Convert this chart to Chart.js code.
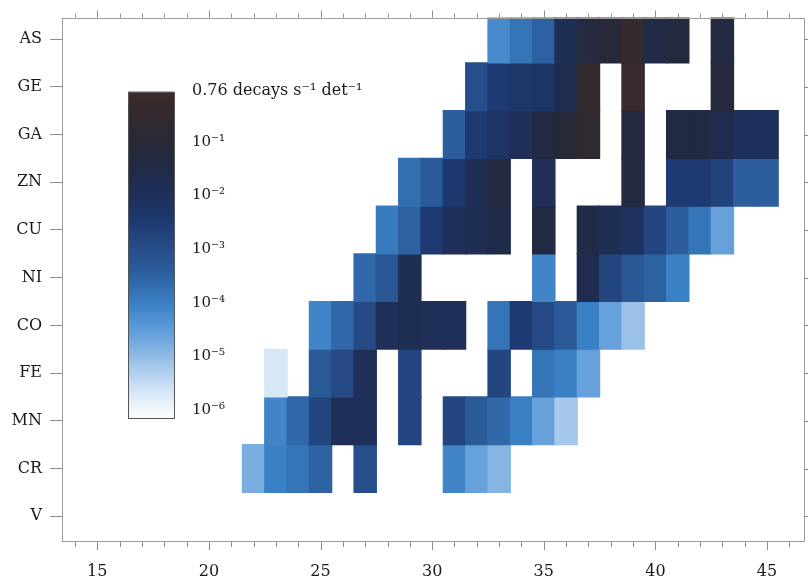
<!DOCTYPE html>
<html><head><meta charset="utf-8">
<script src="https://cdn.jsdelivr.net/npm/chart.js@4/dist/chart.umd.min.js"></script>
<style>html,body{margin:0;padding:0;background:#fff}#wrap{width:808px;height:582px;position:relative}</style>
</head><body><div id="wrap"><canvas id="c" width="808" height="582"></canvas></div>
<script>
// ---------------- DATA ----------------
const rowLabels = ['V','CR','MN','FE','CO','NI','CU','ZN','GA','GE','AS'];
const columns = [22,23,24,25,26,27,28,29,30,31,32,33,34,35,36,37,38,39,40,41,42,43,44,45];
const xTickValues = [15,20,25,30,35,40,45];
const _ = null;
// log10(decays s^-1 det^-1) per column (22..45); null = no cell
const AS = [_,_,_,_,_,_,_,_,_,_,_,-4.2,-3.8,-3.5,-1.8,-1.3,-1.0,-0.4,-1.5,-1.2,_,-1.3,_,_];
const GE = [_,_,_,_,_,_,_,_,_,_,-3.0,-2.5,-2.3,-2.2,-1.7,-0.4,_,-0.3,_,_,_,-1.2,_,_];
const GA = [_,_,_,_,_,_,_,_,_,-3.4,-2.5,-2.2,-1.9,-1.4,-1.0,-0.7,_,-1.2,_,-1.4,-1.4,-1.7,-2.0,-2.0];
const ZN = [_,_,_,_,_,_,_,-3.7,-3.3,-2.4,-1.8,-1.3,_,-1.9,_,_,_,-1.3,_,-2.5,-2.5,-2.7,-3.4,-3.4];
const CU = [_,_,_,_,_,_,-3.9,-3.5,-2.5,-1.9,-1.8,-1.6,_,-1.4,_,-1.5,-1.8,-2.1,-2.8,-3.4,-3.8,-4.6,_,_];
const NI = [_,_,_,_,_,-3.6,-3.2,-1.8,_,_,_,_,_,-4.1,_,-1.7,-2.8,-3.2,-3.5,-4.0,_,_,_,_];
const CO = [_,_,_,-4.1,-3.6,-2.9,-1.9,-1.8,-1.9,-1.9,_,-3.8,-2.5,-2.9,-3.3,-4.0,-4.6,-5.1,_,_,_,_,_,_];
const FE = [_,-5.7,_,-3.3,-2.9,-1.9,_,-2.8,_,_,_,-2.8,_,-3.8,-4.0,-4.6,_,_,_,_,_,_,_,_];
const MN = [_,-4.1,-3.6,-2.8,-1.9,-1.9,_,-2.8,_,-2.8,-3.3,-3.6,-4.0,-4.6,-5.2,_,_,_,_,_,_,_,_,_];
const CR = [-4.8,-4.0,-3.8,-3.5,_,-3.0,_,_,_,-4.1,-4.6,-4.9,_,_,_,_,_,_,_,_,_,_,_,_];
const V  = [_,_,_,_,_,_,_,_,_,_,_,_,_,_,_,_,_,_,_,_,_,_,_,_];
const rowValues = [V, CR, MN, FE, CO, NI, CU, ZN, GA, GE, AS];

// colour map (log10 value -> colour)
const cmapStops  = [-6.2, -6.0, -5.5, -5.0, -4.5, -4.0, -3.5, -3.0, -2.5, -2.0, -1.5, -1.0, -0.5, -0.1];
const cmapColors = ['#ffffff','#f2f7fc','#c6dcf2','#8fbbe6','#5d9bd8','#3a80c4','#2d62a2','#264e8a','#1f3a72','#1e305c','#212a46','#282938','#33292e','#3c2b2b'];
const cbarLabels = ['0.76 decays s\u207B\u00B9 det\u207B\u00B9','10\u207B\u00B9','10\u207B\u00B2','10\u207B\u00B3','10\u207B\u2074','10\u207B\u2075','10\u207B\u2076'];
const cbarValues = [Math.log10(0.76), -1, -2, -3, -4, -5, -6];

// ---------------- helpers ----------------
function hex2rgb(h){return [parseInt(h.slice(1,3),16),parseInt(h.slice(3,5),16),parseInt(h.slice(5,7),16)];}
function colorFor(v){
  if (v <= cmapStops[0]) return cmapColors[0];
  for (let i=1;i<cmapStops.length;i++){
    if (v <= cmapStops[i]){
      const t=(v-cmapStops[i-1])/(cmapStops[i]-cmapStops[i-1]);
      const a=hex2rgb(cmapColors[i-1]), b=hex2rgb(cmapColors[i]);
      return 'rgb('+a.map((c,k)=>Math.round(c+(b[k]-c)*t)).join(',')+')';
    }
  }
  return cmapColors[cmapColors.length-1];
}

const cells = [], cellColors = [];
rowValues.forEach((row, r) => {
  row.forEach((v, k) => {
    if (v === null) return;
    const c = columns[k];
    cells.push({x:[c-0.5, c+0.5], y:r, v:v});
    cellColors.push(colorFor(v));
  });
});

const FONT = '"DejaVu Serif", "Liberation Serif", serif';

const decor = {
  id:'decor',
  afterDraw(chart){
    const {ctx, chartArea:a, scales:{x, y}} = chart;
    ctx.save();
    // frame
    ctx.strokeStyle = '#9c9c9c'; ctx.lineWidth = 1;
    ctx.strokeRect(Math.round(a.left)+0.5, Math.round(a.top)+0.5, Math.round(a.right-a.left)-1, Math.round(a.bottom-a.top)-1);
    // x ticks bottom & top
    ctx.strokeStyle = '#8a8a8a';
    ctx.beginPath();
    for (let v=Math.ceil(x.min); v<=x.max; v++){
      const px = Math.round(x.getPixelForValue(v))+0.5;
      const major = v%5===0;
      ctx.moveTo(px, a.bottom); ctx.lineTo(px, a.bottom+(major?8:5));
      ctx.moveTo(px, a.top); ctx.lineTo(px, a.top-(major?7:4));
    }
    // right ticks at rows
    for (let r=0; r<rowLabels.length; r++){
      const py = Math.round(y.getPixelForValue(r))+0.5;
      ctx.moveTo(a.right-1, py); ctx.lineTo(a.right+3, py);
    }
    ctx.stroke();

    // colour bar
    const yOf = v => 142 + (-1 - v)*53.6;
    const top = yOf(-0.06), bot = yOf(-6.15);
    const left = 128, w = 46;
    const g = ctx.createLinearGradient(0, bot, 0, top);
    const vmin = -6.15, vmax = -0.06;
    for (let i=0;i<=60;i++){
      const t=i/60, v=vmin+(vmax-vmin)*t;
      g.addColorStop(t, colorFor(v));
    }
    ctx.fillStyle = g;
    ctx.fillRect(left, top, w, bot-top);
    ctx.strokeStyle = '#555'; ctx.lineWidth = 1;
    ctx.strokeRect(left+0.5, Math.round(top)+0.5, w, Math.round(bot-top));
    ctx.fillStyle = '#1a1a1a';
    ctx.textBaseline = 'middle'; ctx.textAlign = 'left';
    cbarLabels.forEach((lab, i) => {
      ctx.font = (i===0 ? '16px ' : '15px ') + FONT;
      ctx.fillText(lab, 192, yOf(cbarValues[i]) - (i===0?4:0));
    });
    ctx.restore();
  }
};

new Chart(document.getElementById('c'), {
  type:'bar',
  data:{ datasets:[{
    data: cells,
    backgroundColor: cellColors,
    borderWidth: 0,
    inflateAmount: 0.6,
    barPercentage: 1,
    categoryPercentage: 1,
    grouped: false
  }]},
  options:{
    indexAxis:'y',
    responsive:false,
    animation:false,
    devicePixelRatio:1,
    layout:{padding:{left:0, right:3, top:12, bottom:0}},
    plugins:{legend:{display:false}, tooltip:{enabled:false}},
    scales:{
      x:{
        type:'linear', min:13.42, max:46.7, offset:false,
        afterBuildTicks: s => { s.ticks = xTickValues.map(v=>({value:v})); },
        afterFit: s => { s.height = 40; },
        grid:{display:false, drawTicks:false, offset:false},
        border:{display:false},
        ticks:{font:{family:FONT, size:16}, color:'#1a1a1a', padding:20, maxRotation:0}
      },
      y:{
        type:'linear', min:-0.54, max:10.45, offset:false,
        afterBuildTicks: s => { s.ticks = rowLabels.map((l,i)=>({value:i})); },
        afterFit: s => { s.width = 62; },
        grid:{display:true, offset:false, drawOnChartArea:false, drawTicks:true, tickLength:12, color:'#8a8a8a'},
        border:{display:false},
        ticks:{font:{family:FONT, size:16}, color:'#1a1a1a', padding:8, callback:(v)=>rowLabels[v]}
      }
    }
  },
  plugins:[decor]
});
</script></body></html>
